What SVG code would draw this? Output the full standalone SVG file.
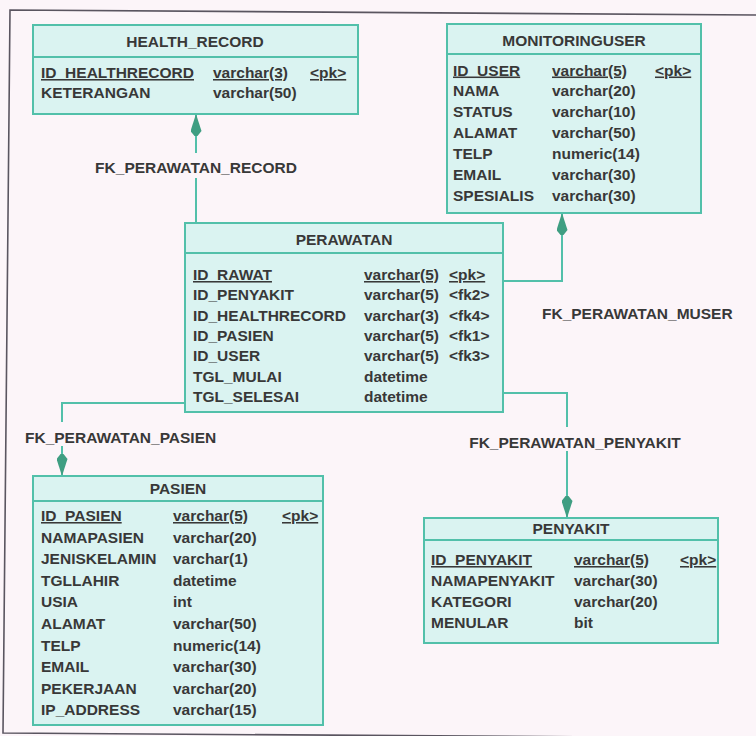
<svg xmlns="http://www.w3.org/2000/svg" width="756" height="736" viewBox="0 0 756 736">
  <style>
    text { font-family: "Liberation Sans", Arial, sans-serif; font-size: 15.5px; font-weight: bold; fill: #383838; }
    .title { text-anchor: middle; }
    .pk { text-decoration: underline; }
    .box { fill: #daf3f1; stroke: #52c0aa; stroke-width: 2; }
    .sep { stroke: #52c0aa; stroke-width: 2; fill: none; }
    .link { stroke: #52c0aa; stroke-width: 2; fill: none; }
    .frame { stroke: #5a5560; stroke-width: 1.6; fill: none; }
  </style>
  <defs>
    <marker id="arrow" viewBox="0 0 22 11" markerWidth="22" markerHeight="11" refX="22" refY="5.5" orient="auto" markerUnits="userSpaceOnUse">
      <path d="M22,5.5 L5,0 L0,4 L0,7 L5,11 Z" fill="#3f9e82"/>
    </marker>
  </defs>

  <!-- paper and page frame -->
  <rect width="756" height="736" fill="#fcf5f9"/>
  <path class="frame" d="M756,15 L10,10 L3,733 L756,738"/>

  <!-- relationships -->
  <g id="connectors">
    <path class="link" d="M196,223 V178"/>
    <path class="link" d="M196,153 V114" marker-end="url(#arrow)"/>
    <text x="196" y="173" class="title">FK_PERAWATAN_RECORD</text>

    <path class="link" d="M503,281 H562 V213" marker-end="url(#arrow)"/>
    <text x="542" y="319">FK_PERAWATAN_MUSER</text>

    <path class="link" d="M185,403 H62 V422"/>
    <path class="link" d="M62,446 V476" marker-end="url(#arrow)"/>
    <text x="25" y="443">FK_PERAWATAN_PASIEN</text>

    <path class="link" d="M503,393 H567 V427"/>
    <path class="link" d="M567,451 V518" marker-end="url(#arrow)"/>
    <text x="575" y="448" class="title">FK_PERAWATAN_PENYAKIT</text>
  </g>

  <!-- HEALTH_RECORD -->
  <g id="health_record">
    <rect class="box" x="33" y="25" width="325" height="89"/>
    <path class="sep" d="M33,57 H358"/>
    <text x="195" y="47" class="title">HEALTH_RECORD</text>
    <text y="78" class="pk"><tspan x="41">ID_HEALTHRECORD</tspan><tspan x="213">varchar(3)</tspan><tspan x="310">&lt;pk&gt;</tspan></text>
    <text y="98"><tspan x="41">KETERANGAN</tspan><tspan x="213">varchar(50)</tspan></text>
  </g>

  <!-- MONITORINGUSER -->
  <g id="monitoringuser">
    <rect class="box" x="447" y="24" width="254" height="189"/>
    <path class="sep" d="M447,54 H701"/>
    <text x="574" y="46" class="title">MONITORINGUSER</text>
    <text y="75.5" class="pk"><tspan x="453">ID_USER</tspan><tspan x="552">varchar(5)</tspan><tspan x="655">&lt;pk&gt;</tspan></text>
    <text y="96.4"><tspan x="453">NAMA</tspan><tspan x="552">varchar(20)</tspan></text>
    <text y="117.3"><tspan x="453">STATUS</tspan><tspan x="552">varchar(10)</tspan></text>
    <text y="138.2"><tspan x="453">ALAMAT</tspan><tspan x="552">varchar(50)</tspan></text>
    <text y="159.1"><tspan x="453">TELP</tspan><tspan x="552">numeric(14)</tspan></text>
    <text y="180"><tspan x="453">EMAIL</tspan><tspan x="552">varchar(30)</tspan></text>
    <text y="201"><tspan x="453">SPESIALIS</tspan><tspan x="552">varchar(30)</tspan></text>
  </g>

  <!-- PERAWATAN -->
  <g id="perawatan">
    <rect class="box" x="185" y="223" width="318" height="189"/>
    <path class="sep" d="M185,253 H503"/>
    <text x="344" y="245" class="title">PERAWATAN</text>
    <text y="280" class="pk"><tspan x="193">ID_RAWAT</tspan><tspan x="364">varchar(5)</tspan><tspan x="449">&lt;pk&gt;</tspan></text>
    <text y="300.3"><tspan x="193">ID_PENYAKIT</tspan><tspan x="364">varchar(5)</tspan><tspan x="449">&lt;fk2&gt;</tspan></text>
    <text y="320.7"><tspan x="193">ID_HEALTHRECORD</tspan><tspan x="364">varchar(3)</tspan><tspan x="449">&lt;fk4&gt;</tspan></text>
    <text y="341"><tspan x="193">ID_PASIEN</tspan><tspan x="364">varchar(5)</tspan><tspan x="449">&lt;fk1&gt;</tspan></text>
    <text y="361.3"><tspan x="193">ID_USER</tspan><tspan x="364">varchar(5)</tspan><tspan x="449">&lt;fk3&gt;</tspan></text>
    <text y="381.7"><tspan x="193">TGL_MULAI</tspan><tspan x="364">datetime</tspan></text>
    <text y="402"><tspan x="193">TGL_SELESAI</tspan><tspan x="364">datetime</tspan></text>
  </g>

  <!-- PASIEN -->
  <g id="pasien">
    <rect class="box" x="33" y="476" width="290" height="249"/>
    <path class="sep" d="M33,501 H323"/>
    <text x="178" y="494" class="title">PASIEN</text>
    <text y="521" class="pk"><tspan x="41">ID_PASIEN</tspan><tspan x="173">varchar(5)</tspan><tspan x="282">&lt;pk&gt;</tspan></text>
    <text y="542.6"><tspan x="41">NAMAPASIEN</tspan><tspan x="173">varchar(20)</tspan></text>
    <text y="564.2"><tspan x="41">JENISKELAMIN</tspan><tspan x="173">varchar(1)</tspan></text>
    <text y="585.8"><tspan x="41">TGLLAHIR</tspan><tspan x="173">datetime</tspan></text>
    <text y="607.4"><tspan x="41">USIA</tspan><tspan x="173">int</tspan></text>
    <text y="629"><tspan x="41">ALAMAT</tspan><tspan x="173">varchar(50)</tspan></text>
    <text y="650.6"><tspan x="41">TELP</tspan><tspan x="173">numeric(14)</tspan></text>
    <text y="672.2"><tspan x="41">EMAIL</tspan><tspan x="173">varchar(30)</tspan></text>
    <text y="693.8"><tspan x="41">PEKERJAAN</tspan><tspan x="173">varchar(20)</tspan></text>
    <text y="715.4"><tspan x="41">IP_ADDRESS</tspan><tspan x="173">varchar(15)</tspan></text>
  </g>

  <!-- PENYAKIT -->
  <g id="penyakit">
    <rect class="box" x="424" y="518" width="294" height="125"/>
    <path class="sep" d="M424,540 H718"/>
    <text x="571" y="534" class="title">PENYAKIT</text>
    <text y="565" class="pk"><tspan x="431">ID_PENYAKIT</tspan><tspan x="574">varchar(5)</tspan><tspan x="680">&lt;pk&gt;</tspan></text>
    <text y="586"><tspan x="431">NAMAPENYAKIT</tspan><tspan x="574">varchar(30)</tspan></text>
    <text y="607"><tspan x="431">KATEGORI</tspan><tspan x="574">varchar(20)</tspan></text>
    <text y="628"><tspan x="431">MENULAR</tspan><tspan x="574">bit</tspan></text>
  </g>
</svg>
